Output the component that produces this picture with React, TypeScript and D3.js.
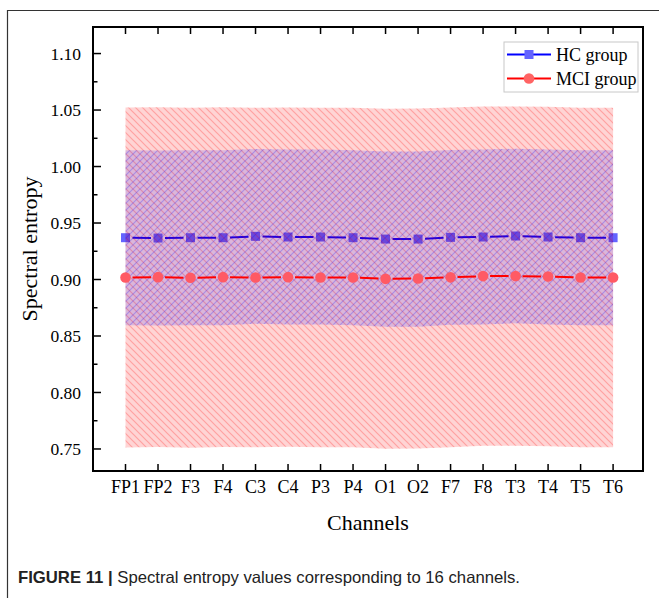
import * as d3 from 'd3';
import React from 'react';

// channels on the x axis
const channels = ['FP1', 'FP2', 'F3', 'F4', 'C3', 'C4', 'P3', 'P4', 'O1', 'O2', 'F7', 'F8', 'T3', 'T4', 'T5', 'T6'];

// mean spectral entropy per channel
const hcMean = [0.937, 0.9367, 0.937, 0.937, 0.9382, 0.9376, 0.9376, 0.937, 0.9358, 0.9358, 0.9373, 0.9376, 0.9385, 0.9376, 0.937, 0.937];
const mciMean = [0.9018, 0.9021, 0.9015, 0.9021, 0.9018, 0.9021, 0.9018, 0.9018, 0.9006, 0.9009, 0.9019, 0.903, 0.903, 0.9027, 0.9018, 0.9018];

// standard deviation per channel (shaded bands)
const hcSd = [0.0774, 0.0774, 0.0774, 0.0774, 0.0774, 0.0774, 0.0774, 0.0775, 0.0776, 0.0776, 0.0774, 0.0774, 0.0773, 0.0774, 0.0774, 0.0774];
const mciSd = [0.1504, 0.1503, 0.1505, 0.1503, 0.1502, 0.1502, 0.1503, 0.1503, 0.1505, 0.1504, 0.1503, 0.1502, 0.1502, 0.1502, 0.1503, 0.1503];

const yTicks = [0.75, 0.8, 0.85, 0.9, 0.95, 1.0, 1.05, 1.1];
const yMinorTicks = [0.775, 0.825, 0.875, 0.925, 0.975, 1.025, 1.075];

const serif = '"Liberation Serif", "Times New Roman", serif';

const App = () => {
  const left = 93, right = 643, top = 27, bottom = 471;

  const x = d3.scaleLinear().domain([-1, channels.length - 0.08]).range([left, right]);
  const y = d3.scaleLinear().domain([0.7305, 1.1235]).range([bottom, top]);

  const band = (mean: number[], sd: number[]) =>
    d3.area<number>()
      .x((_, i) => x(i))
      .y0((_, i) => y(mean[i] - sd[i]))
      .y1((_, i) => y(mean[i] + sd[i]))(mean) || '';

  // line segments with small gaps around the markers
  const segments = (vals: number[], gap: number) => {
    const out: string[] = [];
    for (let i = 0; i < vals.length - 1; i++) {
      const x0 = x(i), y0 = y(vals[i]), x1 = x(i + 1), y1 = y(vals[i + 1]);
      const len = Math.hypot(x1 - x0, y1 - y0);
      const ux = (x1 - x0) / len, uy = (y1 - y0) / len;
      out.push(`M${x0 + ux * gap},${y0 + uy * gap}L${x1 - ux * gap},${y1 - uy * gap}`);
    }
    return out.join('');
  };

  return (
    <svg width={659} height={598} style={{ position: 'absolute', left: 0, top: 0, background: '#fff' }}>
      <defs>
        <pattern id="hatchRed" patternUnits="userSpaceOnUse" width={7} height={7}>
          <rect width={7} height={7} fill="#ff0000" fillOpacity={0.17} />
          <path d="M0,0L7,7M-1,6L1,8M6,-1L8,1" stroke="#ff0000" strokeOpacity={0.24} strokeWidth={1.2} />
        </pattern>
        <pattern id="hatchBlue" patternUnits="userSpaceOnUse" width={7} height={7}>
          <rect width={7} height={7} fill="#0000ff" fillOpacity={0.14} />
          <path d="M0,7L7,0M-1,1L1,-1M6,8L8,6" stroke="#0000ff" strokeOpacity={0.22} strokeWidth={1.2} />
        </pattern>
      </defs>

      {/* figure frame */}
      <path d="M7.5,598V10.5H659" fill="none" stroke="#333" strokeWidth={1.2} />

      {/* HC series (sits under the bands) */}
      <path d={segments(hcMean, 7)} stroke="#0000ff" strokeWidth={2} fill="none" />
      {hcMean.map((v, i) => (
        <rect key={i} x={x(i) - 4.5} y={y(v) - 4.5} width={9} height={9} fill="#6464ff" />
      ))}

      {/* bands */}
      <path d={band(mciMean, mciSd)} fill="url(#hatchRed)" />
      <path d={band(hcMean, hcSd)} fill="url(#hatchBlue)" />

      {/* MCI series */}
      <path d={segments(mciMean, 7)} stroke="#ff0000" strokeWidth={2} fill="none" />
      {mciMean.map((v, i) => (
        <circle key={i} cx={x(i)} cy={y(v)} r={5.3} fill="#ff5a64" />
      ))}

      {/* axes frame */}
      <rect x={left} y={top} width={right - left} height={bottom - top} fill="none" stroke="#000" strokeWidth={2} />
      {channels.map((c, i) => (
        <g key={c}>
          <line x1={x(i)} x2={x(i)} y1={bottom} y2={bottom - 7} stroke="#000" strokeWidth={1.5} />
          <line x1={x(i)} x2={x(i)} y1={top} y2={top + 7} stroke="#000" strokeWidth={1.5} />
          <text x={x(i)} y={493} textAnchor="middle" fontFamily={serif} fontSize={18}>{c}</text>
        </g>
      ))}
      {yTicks.map(t => (
        <g key={t}>
          <line x1={left} x2={left + 8} y1={y(t)} y2={y(t)} stroke="#000" strokeWidth={1.5} />
          <text x={81} y={y(t)} dy="0.35em" textAnchor="end" fontFamily={serif} fontSize={17.5}>{t.toFixed(2)}</text>
        </g>
      ))}
      {yMinorTicks.map(t => (
        <line key={t} x1={left} x2={left + 4.5} y1={y(t)} y2={y(t)} stroke="#000" strokeWidth={1.5} />
      ))}

      <text x={(left + right) / 2} y={530} textAnchor="middle" fontFamily={serif} fontSize={22}>Channels</text>
      <text transform={`translate(37,${(top + bottom) / 2}) rotate(-90)`} textAnchor="middle" fontFamily={serif} fontSize={22}>Spectral entropy</text>

      {/* legend */}
      <rect x={504} y={42} width={134} height={50} fill="#fff" stroke="#c8c8c8" strokeWidth={1} />
      <line x1={507} x2={551} y1={54.5} y2={54.5} stroke="#0000ff" strokeWidth={2} />
      <rect x={524.5} y={50} width={9} height={9} fill="#6464ff" />
      <text x={556} y={60.5} fontFamily={serif} fontSize={18}>HC group</text>
      <line x1={507} x2={551} y1={78.5} y2={78.5} stroke="#ff0000" strokeWidth={2} />
      <circle cx={529} cy={78.5} r={5.3} fill="#ff6464" />
      <text x={556} y={84.5} fontFamily={serif} fontSize={18}>MCI group</text>

      {/* caption */}
      <text x={18} y={583} fontFamily='"Liberation Sans", Arial, sans-serif' fontSize={16.5} fill="#222"
        textLength={502} lengthAdjust="spacingAndGlyphs">
        <tspan fontWeight="bold">FIGURE 11 | </tspan>
        <tspan>Spectral entropy values corresponding to 16 channels.</tspan>
      </text>
    </svg>
  );
};

export default App;
